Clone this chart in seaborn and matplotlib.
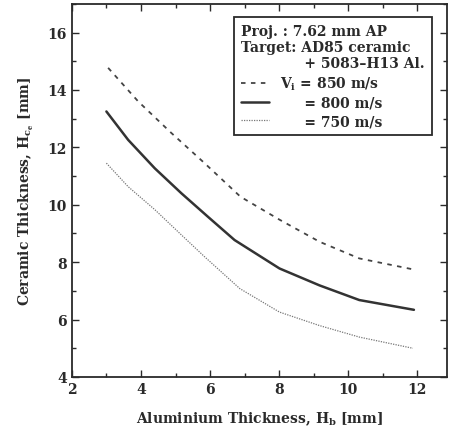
import seaborn as sns
import matplotlib.pyplot as plt
import pandas as pd
from matplotlib.ticker import MultipleLocator

# Datos
x_850 = [3.05, 3.92, 4.88, 5.84, 6.88, 8.01, 9.17, 10.32, 11.87]
h_850 = [14.77, 13.6, 12.5, 11.45, 10.28, 9.48, 8.71, 8.13, 7.75]
x_800 = [3.0, 3.63, 4.40, 5.17, 5.94, 6.71, 8.01, 9.17, 10.32, 11.9]
h_800 = [13.25, 12.26, 11.27, 10.4, 9.58, 8.77, 7.78, 7.19, 6.68, 6.34]
x_750 = [3.0, 3.63, 4.40, 5.17, 5.84, 6.86, 8.01, 9.17, 10.32, 11.87]
h_750 = [11.45, 10.63, 9.83, 8.95, 8.19, 7.08, 6.26, 5.79, 5.39, 5.0]
labels = ["V$_\\mathregular{i}$ = 850 m/s", "     = 800 m/s", "     = 750 m/s"]

df = pd.DataFrame({
    "al": x_850 + x_800 + x_750,
    "h": h_850 + h_800 + h_750,
    "vel": [labels[0]] * len(x_850) + [labels[1]] * len(x_800) + [labels[2]] * len(x_750),
})

sns.set_style("ticks")
plt.rcParams["font.family"] = ["DejaVu Serif"]
plt.rcParams["font.weight"] = "bold"
plt.rcParams["axes.labelweight"] = "bold"
ink = "#2a2a2a"

fig = plt.figure(figsize=(4.49, 4.39), dpi=100)
ax = fig.add_axes([0.160, 0.139, 0.835, 0.850])

estilos = {labels[0]: (0, (2.5, 3)), labels[1]: "-", labels[2]: (0, (1, 1))}
anchos = {labels[0]: 1.3, labels[1]: 1.8, labels[2]: 0.9}
grises = {labels[0]: "#444444", labels[1]: "#333333", labels[2]: "#777777"}
for v in labels:
    sub = df[df["vel"] == v]
    sns.lineplot(data=sub, x="al", y="h", ax=ax, color=grises[v], sort=True,
                 linestyle=estilos[v], linewidth=anchos[v], label=v)

ax.set_xlim(2, 12.85)
ax.set_ylim(4, 17)
ax.xaxis.set_major_locator(MultipleLocator(2))
ax.xaxis.set_minor_locator(MultipleLocator(1))
ax.yaxis.set_major_locator(MultipleLocator(2))
ax.yaxis.set_minor_locator(MultipleLocator(1))
ax.tick_params(which="both", direction="in", top=True, right=True, colors=ink,
               labelsize=10, width=1)
ax.tick_params(which="major", length=5)
ax.tick_params(which="minor", length=3)
for s in ax.spines.values():
    s.set_linewidth(1.3)
    s.set_color(ink)

ax.set_xlabel("Aluminium Thickness, H$_\\mathregular{b}$ [mm]", fontsize=10,
              color=ink, labelpad=10)
ax.set_ylabel("Ceramic Thickness, H$_\\mathregular{c_e}$ [mm]", fontsize=10,
              color=ink, labelpad=8)

leg = ax.legend(title="Proj. : 7.62 mm AP\nTarget: AD85 ceramic\n             + 5083\u2013H13 Al.",
                loc="upper right", bbox_to_anchor=(0.96, 0.965), borderaxespad=0,
                fontsize=10, title_fontsize=10, fancybox=False, framealpha=1,
                edgecolor=ink, handlelength=2.0, borderpad=0.5,
                labelspacing=0.3, alignment="left")
leg.get_frame().set_linewidth(1.3)
for t in leg.get_texts():
    t.set_color(ink)
leg.get_title().set_color(ink)
leg.get_title().set_fontweight("bold")

fig.savefig("out.png", dpi=100)
